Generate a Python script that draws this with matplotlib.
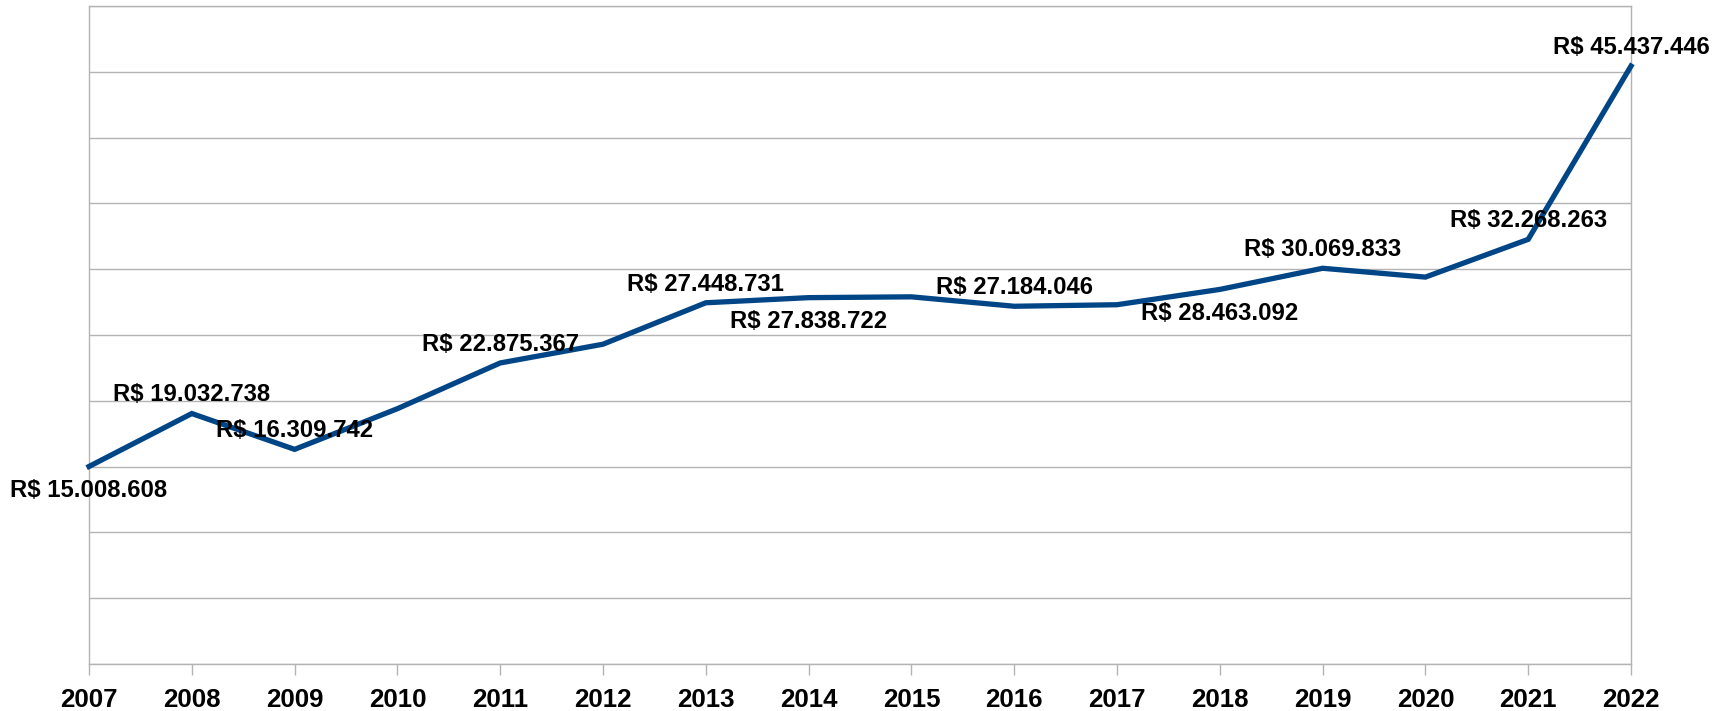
import matplotlib
matplotlib.use("Agg")
import matplotlib.pyplot as plt

plt.rcParams['font.family'] = ['Liberation Sans', 'DejaVu Sans']

years = [2007, 2008, 2009, 2010, 2011, 2012, 2013, 2014, 2015, 2016, 2017, 2018, 2019, 2020, 2021, 2022]
values = [15008608, 19032738, 16309742, 19400000, 22875367, 24300000, 27448731, 27838722,
          27900000, 27184046, 27300000, 28463092, 30069833, 29400000, 32268263, 45437446]
# which points carry a data label, and where (above / below)
label_pos = {2007: 'below', 2008: 'above', 2009: 'above', 2011: 'above', 2013: 'above',
             2014: 'below', 2016: 'above', 2018: 'below', 2019: 'above', 2021: 'above',
             2022: 'above'}
y_max = 50000000
y_step = 5000000


def fmt(v):
    return "R$ " + f"{v:,}".replace(",", ".")


fig = plt.figure(figsize=(17.27, 7.11), dpi=100)
ax = fig.add_axes([89 / 1727, 47 / 711, (1631 - 89) / 1727, (664.5 - 6.5) / 711])

grid_c = '#b3b3b3'
ax.set_xlim(years[0], years[-1])
ax.set_ylim(0, y_max)
ax.set_yticks(range(0, y_max + 1, y_step))
ax.yaxis.grid(True, color=grid_c, linewidth=1.0)
ax.tick_params(axis='y', left=False, labelleft=False)
ax.set_xticks(years)
ax.set_xticklabels([str(y) for y in years], fontsize=18.6, fontweight='bold')
ax.tick_params(axis='x', length=8, color=grid_c, width=1.0, pad=9)
for s in ax.spines.values():
    s.set_color(grid_c)
    s.set_linewidth(1.0)
ax.set_axisbelow(True)

ax.plot(years, values, color='#004586', linewidth=3.8, solid_joinstyle='miter', clip_on=False, zorder=3)

for yr, v in zip(years, values):
    if yr in label_pos:
        off = 13.4 if label_pos[yr] == 'above' else -17.0
        ax.annotate(fmt(v), (yr, v), xytext=(0, off), textcoords='offset points',
                    ha='center', va='center', fontsize=17.2, fontweight='bold',
                    color='black', zorder=4, annotation_clip=False)

fig.savefig('out.png', dpi=100)
